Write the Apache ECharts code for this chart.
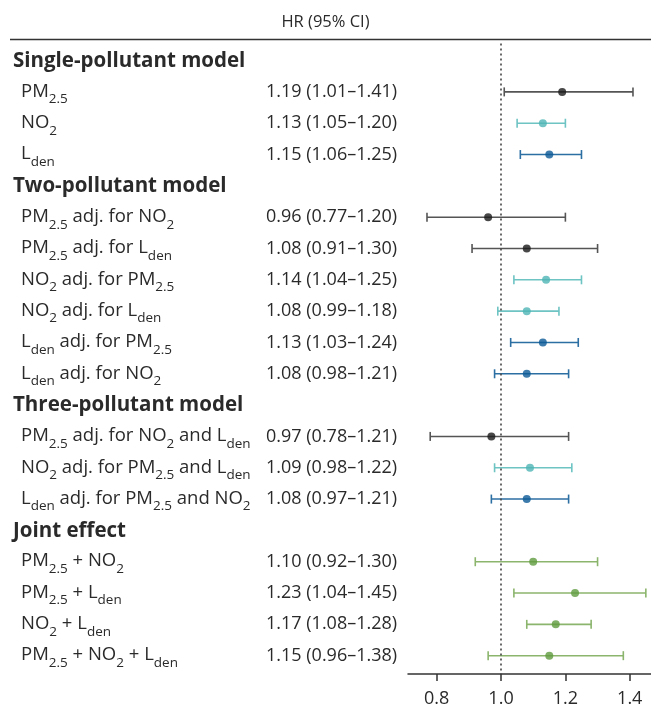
<!DOCTYPE html>
<html>
<head>
<meta charset="utf-8">
<script src="https://cdn.jsdelivr.net/npm/echarts@6/dist/echarts.min.js"></script>
<style>html,body{margin:0;padding:0;background:#fff}#c{width:651px;height:708px}</style>
</head>
<body>
<div id="c"></div>
<script>
// ---- data ----
const rowLabels = [
  'Single-pollutant model',
  'PM_{2.5}',
  'NO_{2}',
  'L_{den}',
  'Two-pollutant model',
  'PM_{2.5} adj. for NO_{2}',
  'PM_{2.5} adj. for L_{den}',
  'NO_{2} adj. for PM_{2.5}',
  'NO_{2} adj. for L_{den}',
  'L_{den} adj. for PM_{2.5}',
  'L_{den} adj. for NO_{2}',
  'Three-pollutant model',
  'PM_{2.5} adj. for NO_{2} and L_{den}',
  'NO_{2} adj. for PM_{2.5} and L_{den}',
  'L_{den} adj. for PM_{2.5} and NO_{2}',
  'Joint effect',
  'PM_{2.5} + NO_{2}',
  'PM_{2.5} + L_{den}',
  'NO_{2} + L_{den}',
  'PM_{2.5} + NO_{2} + L_{den}'
];
const isHeader = [1,0,0,0,1,0,0,0,0,0,0,1,0,0,0,1,0,0,0,0];
const hr    = [null,1.19,1.13,1.15,null,0.96,1.08,1.14,1.08,1.13,1.08,null,0.97,1.09,1.08,null,1.10,1.23,1.17,1.15];
const ciLow = [null,1.01,1.05,1.06,null,0.77,0.91,1.04,0.99,1.03,0.98,null,0.78,0.98,0.97,null,0.92,1.04,1.08,0.96];
const ciHigh= [null,1.41,1.20,1.25,null,1.20,1.30,1.25,1.18,1.24,1.21,null,1.21,1.22,1.21,null,1.30,1.45,1.28,1.38];
const group = [null,'pm','no2','lden',null,'pm','pm','no2','no2','lden','lden',null,'pm','no2','lden',null,'joint','joint','joint','joint'];
const xTicks = [0.8, 1.0, 1.2, 1.4];
const headerTitle = 'HR (95% CI)';

// ---- styles ----
const lineColor  = {pm:'#555555', no2:'#6ec3c3', lden:'#2c6fa3', joint:'#8bb56c'};
const pointColor = {pm:'#1a1a1a', no2:'#4fb5b5', lden:'#0b5a96', joint:'#5f9b3f'};
const FONT = 'Open Sans';
const TXT = '#2a2a2a';

function toRich(s, base) {
  let out = '';
  const re = /_\{([^}]*)\}/g;
  let last = 0, m;
  while ((m = re.exec(s)) !== null) {
    if (m.index > last) out += '{' + base + '|' + s.slice(last, m.index) + '}';
    out += '{s|' + m[1] + '}';
    last = re.lastIndex;
  }
  if (last < s.length) out += '{' + base + '|' + s.slice(last) + '}';
  return out;
}

const idx = rowLabels.map((_, i) => i);
const headerIdx = idx.filter(i => isHeader[i]);
const itemIdx = idx.filter(i => !isHeader[i]);

const rich = {
  b:  {fontFamily: FONT, fontSize: 18.5, color: TXT, lineHeight: 22, padding: [1, 0, 0, 0], verticalAlign: 'top'},
  h:  {fontFamily: FONT, fontSize: 20.5, fontWeight: 'bold', color: TXT, lineHeight: 22, padding: [1, 0, 0, 0], verticalAlign: 'top'},
  v:  {fontFamily: FONT, fontSize: 18, color: TXT, lineHeight: 22, padding: [2, 0, 0, 0], verticalAlign: 'top'},
  s:  {fontFamily: FONT, fontSize: 13.5, color: TXT, lineHeight: 13, padding: [11.5, 0, 0, 0], verticalAlign: 'top'}
};

const YMIN = -0.545, YMAX = 19.585;
function yAx(margin, values, fmt) {
  return {
    type: 'value', inverse: true, min: YMIN, max: YMAX, position: 'left',
    axisLine: {show: false}, axisTick: {show: false}, splitLine: {show: false},
    axisLabel: {show: true, customValues: values, align: 'left', margin: margin,
      formatter: fmt, rich: rich, fontFamily: FONT, fontSize: 18, color: TXT}
  };
}

const ciData = itemIdx.map(i => ({value: [ciLow[i], ciHigh[i], i], itemStyle: {color: lineColor[group[i]]}}));
const ptData = itemIdx.map(i => ({value: [hr[i], i], itemStyle: {color: pointColor[group[i]]}}));

const chart = echarts.init(document.getElementById('c'), null, {renderer: 'canvas'});
chart.setOption({
  animation: false,
  textStyle: {fontFamily: FONT},
  title: {text: headerTitle, left: 'center', top: 9,
    textStyle: {fontFamily: FONT, fontSize: 16.5, fontWeight: 'normal', color: TXT}},
  graphic: [{type: 'line', shape: {x1: 10, y1: 39.5, x2: 651, y2: 39.5},
    style: {stroke: '#333', lineWidth: 1.6}}],
  grid: {left: 408, right: 0, top: 43.5, bottom: 33, containLabel: false},
  xAxis: {
    type: 'value', min: 0.711, max: 1.466,
    axisLine: {show: true, onZero: false, lineStyle: {color: '#333', width: 1.5}},
    axisTick: {show: true, customValues: xTicks, length: 7, lineStyle: {color: '#333', width: 1.5}},
    axisLabel: {show: true, customValues: xTicks, formatter: v => v.toFixed(1), margin: 16,
      fontFamily: FONT, fontSize: 18, color: TXT},
    splitLine: {show: false}
  },
  yAxis: [
    yAx(395, headerIdx, v => toRich(rowLabels[v], 'h')),
    yAx(387, itemIdx, v => toRich(rowLabels[v], 'b')),
    yAx(142, itemIdx, v => '{v|' + hr[v].toFixed(2) + ' (' + ciLow[v].toFixed(2) + '\u2013' + ciHigh[v].toFixed(2) + ')}')
  ],
  series: [
    {
      type: 'custom', yAxisIndex: 0, data: ciData, silent: true,
      renderItem: function (params, api) {
        const lo = api.coord([api.value(0), api.value(2)]);
        const hi = api.coord([api.value(1), api.value(2)]);
        const c = api.visual('color');
        const h = 4.5;
        const st = {stroke: c, lineWidth: 1.6};
        return {type: 'group', children: [
          {type: 'line', shape: {x1: lo[0], y1: lo[1], x2: hi[0], y2: hi[1]}, style: st},
          {type: 'line', shape: {x1: lo[0], y1: lo[1]-h, x2: lo[0], y2: lo[1]+h}, style: st},
          {type: 'line', shape: {x1: hi[0], y1: hi[1]-h, x2: hi[0], y2: hi[1]+h}, style: st}
        ]};
      },
      markLine: {silent: true, symbol: 'none', label: {show: false},
        lineStyle: {color: '#444', width: 1.6, type: [2, 3]},
        data: [{xAxis: 1}]}
    },
    {
      type: 'scatter', yAxisIndex: 0, data: ptData, symbol: 'circle', symbolSize: 8, silent: true, z: 5
    }
  ]
});
</script>
</body>
</html>
